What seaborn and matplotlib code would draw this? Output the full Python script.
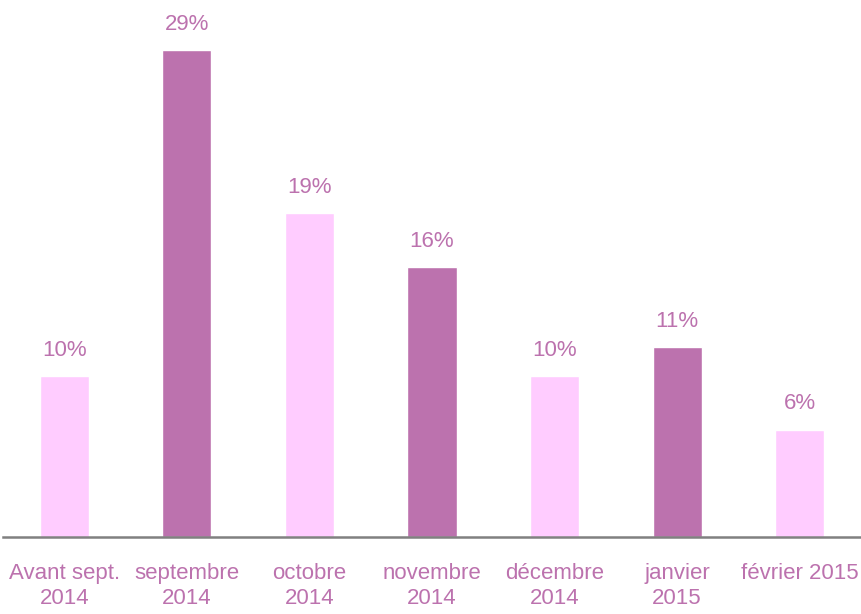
import matplotlib
matplotlib.use("Agg")
import matplotlib.pyplot as plt
import seaborn as sns
import pandas as pd

categories = ["Avant sept.\n2014", "septembre\n2014", "octobre\n2014", "novembre\n2014",
              "décembre\n2014", "janvier\n2015", "février 2015"]
values = [9.6, 29.0, 19.3, 16.1, 9.6, 11.3, 6.4]
labels = ["10%", "29%", "19%", "16%", "10%", "11%", "6%"]
colors = ["#FFCCFF", "#BC72AE", "#FFCCFF", "#BC72AE", "#FFCCFF", "#BC72AE", "#FFCCFF"]

text_color = "#BC72AE"

sns.set_style("white")
plt.rcParams["font.family"] = ["Liberation Sans Narrow", "Liberation Sans", "DejaVu Sans"]

df = pd.DataFrame({"cat": categories, "val": values})

fig = plt.figure(figsize=(8.61, 6.14), dpi=100)
ax = fig.add_axes([3 / 861, (614 - 537) / 614, 858 / 861, 537 / 614])
sns.barplot(data=df, x="cat", y="val", hue="cat", palette=colors, width=0.4,
            legend=False, saturation=1, ax=ax)

# percentage labels above bars
for i, c in enumerate(ax.containers):
    ax.bar_label(c, labels=[labels[i]], padding=11, color=text_color, fontsize=16)

ax.set_xlim(-0.5, 6.5)
ax.set_ylim(0, 32)
ax.set_xlabel("")
ax.set_ylabel("")
ax.set_yticks([])
ax.tick_params(axis="x", length=0, pad=19, labelsize=16, labelcolor=text_color)
for t in ax.get_xticklabels():
    t.set_linespacing(1.25)
for s in ["top", "right", "left"]:
    ax.spines[s].set_visible(False)
ax.spines["bottom"].set_color("#808080")
ax.spines["bottom"].set_linewidth(1.8)

fig.savefig("out.png", dpi=100)
